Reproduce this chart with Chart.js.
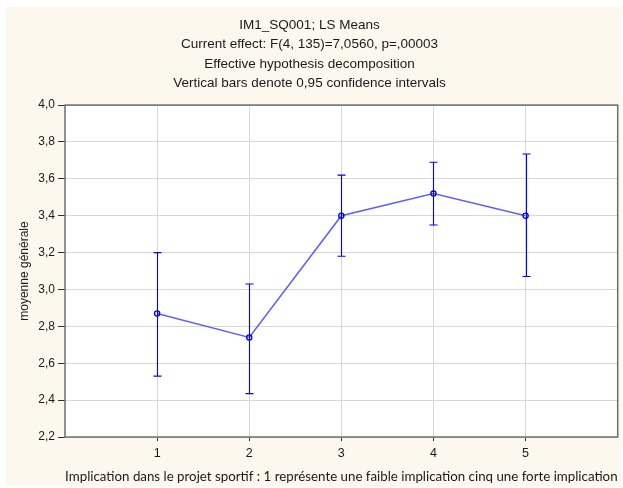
<!DOCTYPE html>
<html>
<head>
<meta charset="utf-8">
<script src="https://cdn.jsdelivr.net/npm/chart.js@4/dist/chart.umd.min.js"></script>
<style>
  html, body { margin: 0; padding: 0; background: #ffffff; }
  #wrap { width: 623px; height: 488px; position: relative; }
</style>
</head>
<body>
<div id="wrap"><canvas id="c" width="623" height="488"></canvas></div>
<script>
// ---- data ----
const categories = ['1', '2', '3', '4', '5'];
const means      = [2.87, 2.74, 3.40, 3.52, 3.40];
const ciLower    = [2.53, 2.435, 3.18, 3.35, 3.07];
const ciUpper    = [3.20, 3.03, 3.62, 3.69, 3.735];
const yTickMin = 2.2, yTickMax = 4.0, yTickStep = 0.2;
const titleLines = [
  'IM1_SQ001; LS Means',
  'Current effect: F(4, 135)=7,0560, p=,00003',
  'Effective hypothesis decomposition',
  'Vertical bars denote 0,95 confidence intervals'
];
const yTitle = 'moyenne générale';
const xTitle = 'Implication dans le projet sportif : 1 représente une faible implication cinq une forte implication';

const points = categories.map((c, i) => ({ x: i + 1, y: means[i] }));

const bgPlugin = {
  id: 'bg',
  beforeDraw(chart) {
    const ctx = chart.ctx, a = chart.chartArea;
    ctx.save();
    ctx.fillStyle = '#ffffff';
    ctx.fillRect(0, 0, chart.width, chart.height);
    ctx.fillStyle = '#fdf8ed';
    ctx.fillRect(6, 7, chart.width - 8, chart.height - 9);
    ctx.fillStyle = '#ffffff';
    ctx.fillRect(a.left, a.top, a.right - a.left, a.bottom - a.top);
    ctx.restore();
  },
  beforeDatasetsDraw(chart) {
    const ctx = chart.ctx, a = chart.chartArea;
    ctx.save();
    ctx.strokeStyle = '#6e6e6e';
    ctx.lineWidth = 1.5;
    ctx.strokeRect(a.left, a.top, a.right - a.left, a.bottom - a.top);
    ctx.restore();
  }
};

const errorBars = {
  id: 'errorBars',
  afterDatasetsDraw(chart) {
    const ctx = chart.ctx, xs = chart.scales.x, ys = chart.scales.y;
    ctx.save();
    ctx.strokeStyle = '#0000ff';
    ctx.lineWidth = 1.1;
    categories.forEach((c, i) => {
      const px = Math.round(xs.getPixelForValue(i + 1)) + 0.5;
      const yl = ys.getPixelForValue(ciLower[i]);
      const yu = ys.getPixelForValue(ciUpper[i]);
      ctx.beginPath();
      ctx.moveTo(px, yu); ctx.lineTo(px, yl);
      ctx.moveTo(px - 4, yu); ctx.lineTo(px + 4, yu);
      ctx.moveTo(px - 4, yl); ctx.lineTo(px + 4, yl);
      ctx.stroke();
    });
    ctx.restore();
  }
};

new Chart(document.getElementById('c'), {
  type: 'line',
  data: {
    datasets: [{
      data: points,
      borderColor: '#6060ff',
      borderWidth: 1.6,
      pointRadius: 2.6,
      pointBorderColor: '#0000ff',
      pointBackgroundColor: 'rgba(255,255,255,0)',
      pointBorderWidth: 1.3,
      tension: 0,
      fill: false
    }]
  },
  options: {
    responsive: false,
    animation: false,
    devicePixelRatio: 1,
    layout: { padding: { left: 0, right: 4, top: 0, bottom: 0 } },
    plugins: {
      legend: { display: false },
      tooltip: { enabled: false },
      title: {
        display: true,
        text: titleLines,
        color: '#1a1a1a',
        font: { family: 'Liberation Sans', size: 13.5, weight: 'normal', lineHeight: 1.44 },
        padding: { top: 15.3, bottom: 12 }
      }
    },
    scales: {
      x: {
        type: 'linear',
        min: 0, max: categories.length + 1,
        afterFit(s) { s.height = 51; },
        ticks: {
          stepSize: 1,
          autoSkip: false,
          color: '#1a1a1a',
          font: { family: 'Liberation Sans', size: 12.5 },
          padding: 5,
          maxRotation: 0,
          callback: (v) => (v >= 1 && v <= categories.length) ? categories[v - 1] : ''
        },
        grid: {
          color: (ctx) => (ctx.tick && (ctx.tick.value === 0 || ctx.tick.value === categories.length + 1)) ? 'rgba(0,0,0,0)' : '#d9d9d9',
          tickColor: (ctx) => (ctx.tick && (ctx.tick.value === 0 || ctx.tick.value === categories.length + 1)) ? 'rgba(0,0,0,0)' : '#333333',
          tickLength: 4,
          drawTicks: true
        },
        border: { display: false },
        title: {
          display: true,
          text: xTitle,
          color: '#1a1a1a',
          font: { family: 'Lato', size: 13.3 },
          padding: { top: 0, bottom: 3.5 }
        }
      },
      y: {
        min: yTickMin, max: yTickMax,
        afterFit(s) { s.width = 65; },
        ticks: {
          stepSize: yTickStep,
          color: '#1a1a1a',
          font: { family: 'Liberation Sans', size: 12 },
          padding: 3,
          callback: (v) => Number(v).toFixed(1).replace('.', ',')
        },
        grid: {
          color: '#d9d9d9',
          tickColor: '#333333',
          tickLength: 7,
          drawTicks: true
        },
        border: { display: false },
        title: {
          display: true,
          text: yTitle,
          color: '#1a1a1a',
          font: { family: 'Liberation Sans', size: 12 },
          padding: { top: 17, bottom: 0 }
        }
      }
    }
  },
  plugins: [bgPlugin, errorBars]
});
</script>
</body>
</html>
